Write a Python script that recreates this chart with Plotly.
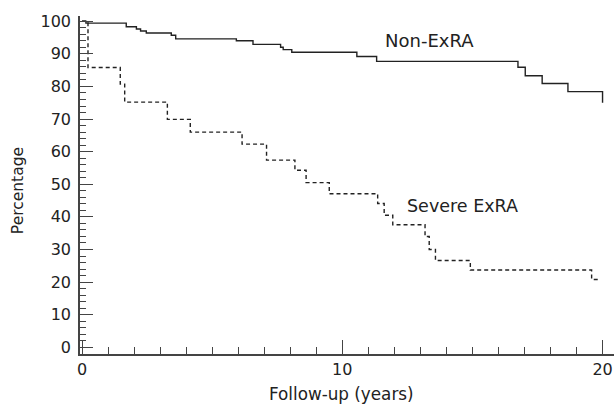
import plotly.graph_objects as go

# Non-ExRA survival (step function)
non_x = [0, 0.15, 1.70, 2.09, 2.25, 2.47, 3.43, 3.60, 5.93, 6.57, 7.63, 7.73, 8.06, 10.56, 11.32, 16.75, 17.03, 17.68, 18.67, 20.0]
non_y = [100, 99.4, 98.3, 97.6, 97.0, 96.4, 95.7, 94.6, 94.0, 92.9, 92.0, 91.3, 90.5, 89.2, 87.7, 85.9, 83.3, 80.9, 78.4, 75.0]

# Severe ExRA survival (step function)
sev_x = [0, 0.23, 1.47, 1.64, 3.28, 4.16, 6.15, 7.09, 8.18, 8.61, 9.50, 11.36, 11.61, 11.94, 13.18, 13.34, 13.58, 14.92, 19.58, 19.9]
sev_y = [100, 85.8, 80.7, 75.2, 69.9, 66.0, 62.3, 57.4, 54.3, 50.5, 47.1, 44.1, 40.5, 37.6, 34.0, 30.0, 26.6, 23.7, 20.8, 20.8]

x_ticks = [0, 10, 20]
y_ticks = [0, 10, 20, 30, 40, 50, 60, 70, 80, 90, 100]

FONT = "DejaVu Sans"
INK = "#222222"
AX = "#444444"

fig = go.Figure()
fig.add_trace(go.Scatter(x=non_x, y=non_y, mode="lines", line_shape="hv",
                         line=dict(color=INK, width=1.4), showlegend=False))
fig.add_trace(go.Scatter(x=sev_x, y=sev_y, mode="lines", line_shape="hv",
                         line=dict(color=INK, width=1.4, dash="4px,3px"), showlegend=False))

fig.add_annotation(x=13.35, y=94.2, text="Non-ExRA", showarrow=False,
                   font=dict(family=FONT, size=18, color=INK))
fig.add_annotation(x=14.6, y=43.4, text="Severe ExRA", showarrow=False,
                   font=dict(family=FONT, size=17.5, color=INK))

# axis titles
fig.add_annotation(xref="paper", yref="paper", x=0.4906, y=-0.118, yanchor="middle",
                   text="Follow-up (years)", showarrow=False,
                   font=dict(family=FONT, size=16.8, color=INK))
fig.add_annotation(xref="paper", yref="paper", x=-0.116, y=0.482, xanchor="center",
                   yanchor="middle", textangle=-90, text="Percentage", showarrow=False,
                   font=dict(family=FONT, size=15.5, color=INK))

fig.update_layout(
    width=614, height=406,
    margin=dict(l=80, r=0, t=16, b=52, autoexpand=False),
    paper_bgcolor="white", plot_bgcolor="white",
    font=dict(family=FONT, size=16, color=INK),
    xaxis=dict(range=[-0.077, 20.44], tickvals=x_ticks, ticks="inside", ticklen=14,
               tickcolor=AX, showline=True, linecolor=AX, linewidth=1.5,
               showgrid=False, zeroline=False, automargin=False,
               minor=dict(dtick=1, tick0=0, ticks="inside", ticklen=7, tickcolor=AX, showgrid=False)),
    yaxis=dict(range=[-2.05, 101.6], tickvals=y_ticks, ticks="inside", ticklen=13,
               tickcolor=AX, showline=True, linecolor=AX, linewidth=1.5,
               showgrid=False, zeroline=False, automargin=False, ticklabelstandoff=4,
               minor=dict(dtick=2, tick0=0, ticks="inside", ticklen=6, tickcolor=AX, showgrid=False)),
)

# remove the default page margin so the figure fills the window exactly
fig.write_html("out.html", config={"displayModeBar": False},
               post_script="document.body.style.margin='0';document.body.style.overflow='hidden';")
